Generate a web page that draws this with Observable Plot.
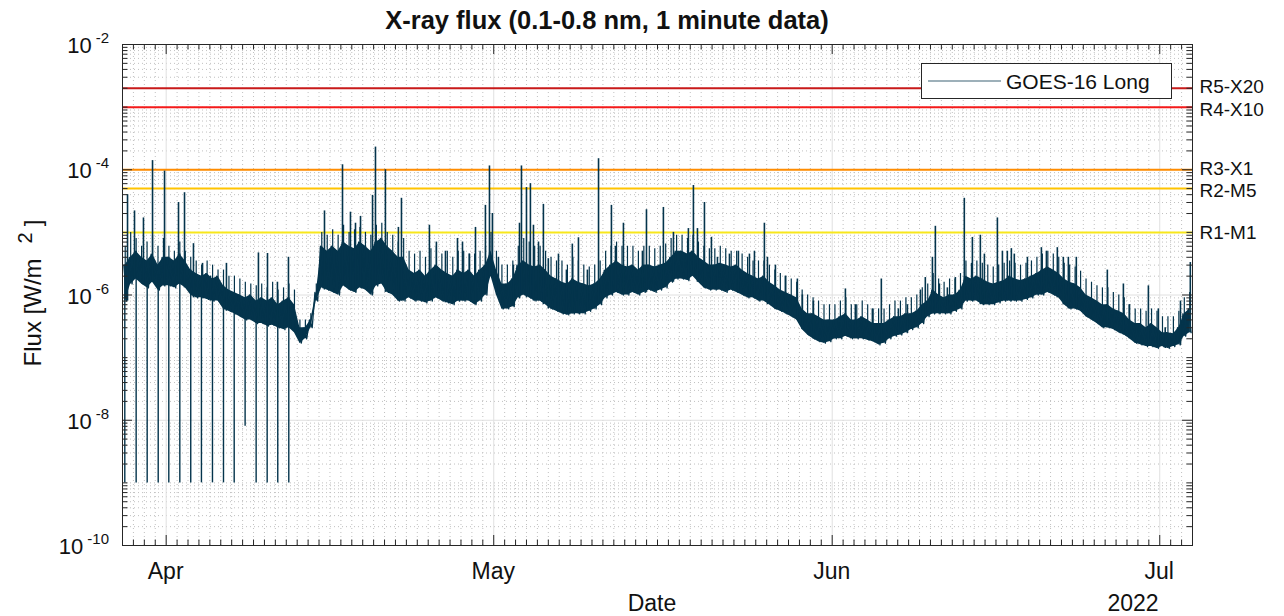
<!DOCTYPE html>
<html><head><meta charset="utf-8">
<script src="https://cdn.jsdelivr.net/npm/d3@7"></script>
<script src="https://cdn.jsdelivr.net/npm/@observablehq/plot@0.6"></script>
<style>html,body{margin:0;padding:0;background:#fff}#chart svg{display:block}</style>
</head><body><div id="chart"></div>
<script>
const DAY = 86400000;
const startDate = Date.UTC(2022, 2, 28);
const endDate = Date.UTC(2022, 6, 4);

// half-day bins (starting 2022-03-28 00:00 UTC): top and bottom of the dense flux band
const binHigh = [
 3e-6,4e-6, 5e-6,4e-6, 3.5e-6,4.5e-6, 3e-6,4e-6, 4e-6,3.5e-6, 4.5e-6,3.5e-6, 2.5e-6,2.2e-6, 2e-6,2.2e-6, 1.8e-6,2e-6, 1.4e-6,1.2e-6,
 1.1e-6,1e-6, 9e-7,1e-6, 8e-7,9e-7, 8e-7,9e-7, 7e-7,8e-7, 9e-7,7e-7, 3e-7,3e-7, 4e-7,1.1e-6, 6e-6,5e-6, 6e-6,5e-6,
 7e-6,6e-6, 5.5e-6,7e-6, 6e-6,5e-6, 7e-6,8e-6, 6e-6,5e-6, 4e-6,4e-6, 2.5e-6,2.2e-6, 2.5e-6,2e-6, 2.5e-6,3e-6, 2.5e-6,2.2e-6,
 2e-6,2.5e-6, 2.2e-6,2.5e-6, 2e-6,2.5e-6, 3e-6,5e-6, 2.5e-6,1.5e-6, 1.5e-6,1.8e-6, 3e-6,3.5e-6, 3e-6,2.8e-6, 3e-6,2.5e-6, 2e-6,1.8e-6,
 1.6e-6,1.5e-6, 1.8e-6,1.6e-6, 1.5e-6,1.4e-6, 1.5e-6,1.8e-6, 2.5e-6,3e-6, 3.5e-6,3e-6, 2.8e-6,3e-6, 2.5e-6,3e-6, 3e-6,2.8e-6, 3e-6,3.2e-6,
 4e-6,5e-6, 5e-6,4.5e-6, 5e-6,4e-6, 3.5e-6,3e-6, 3e-6,3.2e-6, 3e-6,2.8e-6, 3e-6,2.5e-6, 2.2e-6,2e-6, 1.8e-6,2e-6, 1.6e-6,1.4e-6,
 1.2e-6,1.1e-6, 1e-6,9e-7, 6e-7,5e-7, 5e-7,4.5e-7, 4e-7,4e-7, 4e-7,4.5e-7, 5e-7,4e-7, 4e-7,4.5e-7, 4e-7,3.5e-7, 3.5e-7,3.5e-7,
 4e-7,4.5e-7, 4.5e-7,5e-7, 5e-7,5.5e-7, 7e-7,8e-7, 1.2e-6,1e-6, 9e-7,1e-6, 1e-6,1.2e-6, 2e-6,1.8e-6, 2e-6,1.8e-6, 1.6e-6,1.5e-6,
 1.6e-6,1.7e-6, 2e-6,1.8e-6, 1.7e-6,1.8e-6, 2e-6,2.2e-6, 2.5e-6,2.8e-6, 2.5e-6,2.2e-6, 1.8e-6,1.6e-6, 1.5e-6,1.3e-6, 1e-6,9e-7, 8e-7,7e-7,
 7e-7,6e-7, 5.5e-7,5e-7, 4e-7,3.5e-7, 3.5e-7,3e-7, 3.5e-7,3e-7, 2.5e-7,2.5e-7, 2.4e-7,3e-7, 5e-7,6e-7
];
const binLow = [
 8e-7,1.5e-6, 1.8e-6,1.5e-6, 1.3e-6,1.6e-6, 1.2e-6,1.4e-6, 1.4e-6,1.3e-6, 1.5e-6,1.3e-6, 1e-6,9e-7, 9e-7,8.5e-7, 8e-7,8e-7, 6e-7,5.5e-7,
 5e-7,4.5e-7, 4e-7,4e-7, 3.5e-7,3.5e-7, 3.2e-7,3.3e-7, 3e-7,2.8e-7, 3e-7,2.5e-7, 1.7e-7,2e-7, 3e-7,8e-7, 1.3e-6,1.2e-6, 1.1e-6,1e-6,
 1.4e-6,1.2e-6, 1.1e-6,1.3e-6, 1.2e-6,1e-6, 1.4e-6,1.5e-6, 1.1e-6,1e-6, 8e-7,8e-7, 9e-7,8e-7, 8e-7,7.5e-7, 8e-7,9e-7, 8e-7,7.5e-7,
 7e-7,8e-7, 8e-7,8e-7, 7e-7,8e-7, 1e-6,2e-6, 1e-6,6e-7, 6e-7,6.5e-7, 9e-7,1e-6, 9e-7,8e-7, 8e-7,7e-7, 6e-7,5.5e-7,
 5e-7,4.8e-7, 5e-7,5e-7, 5e-7,5.5e-7, 6e-7,7e-7, 9e-7,1e-6, 1.1e-6,1e-6, 1e-6,1.1e-6, 1e-6,1.1e-6, 1.2e-6,1.1e-6, 1.2e-6,1.3e-6,
 1.6e-6,1.8e-6, 1.8e-6,1.7e-6, 2e-6,1.6e-6, 1.3e-6,1.2e-6, 1.2e-6,1.2e-6, 1.1e-6,1.2e-6, 1.1e-6,1e-6, 9e-7,9e-7, 8e-7,8e-7, 7e-7,6e-7,
 5.5e-7,5e-7, 4.5e-7,4e-7, 2.8e-7,2.3e-7, 2e-7,1.8e-7, 1.7e-7,1.8e-7, 2e-7,2e-7, 2.2e-7,2e-7, 2e-7,2e-7, 1.9e-7,1.8e-7, 1.6e-7,1.7e-7,
 2e-7,2.2e-7, 2.3e-7,2.5e-7, 2.8e-7,3e-7, 3.5e-7,4.5e-7, 5e-7,5e-7, 5e-7,5e-7, 5.5e-7,6e-7, 8e-7,8e-7, 8e-7,7e-7, 7e-7,7e-7,
 7.5e-7,8e-7, 8e-7,8e-7, 8e-7,8.5e-7, 9e-7,1e-6, 1e-6,1.1e-6, 1e-6,9e-7, 7e-7,6e-7, 6e-7,5.5e-7, 4.5e-7,4e-7, 3.5e-7,3e-7,
 3e-7,2.8e-7, 2.5e-7,2.3e-7, 2e-7,1.7e-7, 1.6e-7,1.5e-7, 1.5e-7,1.4e-7, 1.5e-7,1.4e-7, 1.5e-7,1.6e-7, 2.2e-7,2.5e-7
];
// typical height of the small spikes above the band in each half-day bin
const binSpike = [
 6e-6,1e-5, 8e-6,6e-6, 7e-6,9e-6, 6e-6,8e-6, 6e-6,5e-6, 7e-6,5e-6, 4e-6,3.5e-6, 3e-6,3.5e-6, 3e-6,2.5e-6, 2.5e-6,2e-6,
 2e-6,1.8e-6, 1.6e-6,1.5e-6, 1.4e-6,1.5e-6, 1.3e-6,1.6e-6, 1.2e-6,1.3e-6, 1.5e-6,1.2e-6, 4e-7,4e-7, 5e-7,1.5e-6, 1e-5,9e-6, 1.1e-5,9e-6,
 1.3e-5,1e-5, 1.1e-5,1.2e-5, 1e-5,9e-6, 1.3e-5,1.4e-5, 1e-5,9e-6, 7e-6,8e-6, 5e-6,4.5e-6, 5e-6,4e-6, 5.5e-6,6e-6, 4.5e-6,5e-6,
 4e-6,5e-6, 5e-6,4.5e-6, 4.5e-6,5e-6, 6e-6,1e-5, 5e-6,3e-6, 3e-6,3.5e-6, 6e-6,8e-6, 7e-6,6e-6, 6e-6,5e-6, 4e-6,3.5e-6,
 3.5e-6,3e-6, 4e-6,3.5e-6, 3e-6,2.8e-6, 3e-6,3.5e-6, 5e-6,6e-6, 7e-6,6e-6, 6e-6,6e-6, 5e-6,6e-6, 6e-6,5.5e-6, 6e-6,6.5e-6,
 8e-6,9e-6, 9e-6,8e-6, 9e-6,7e-6, 6e-6,5.5e-6, 5.5e-6,6e-6, 5.5e-6,5e-6, 5e-6,4.5e-6, 4e-6,3.5e-6, 3.5e-6,3.5e-6, 3e-6,2.5e-6,
 2.2e-6,2e-6, 1.8e-6,1.6e-6, 1.2e-6,1e-6, 9e-7,8e-7, 7e-7,7e-7, 7e-7,8e-7, 9e-7,7e-7, 7e-7,8e-7, 7e-7,6e-7, 6e-7,6e-7,
 7e-7,8e-7, 8e-7,9e-7, 9e-7,1e-6, 1.3e-6,1.5e-6, 2.2e-6,1.8e-6, 1.6e-6,1.8e-6, 1.8e-6,2.2e-6, 3.5e-6,3.2e-6, 3.5e-6,3.2e-6, 3e-6,2.8e-6,
 3e-6,3.2e-6, 3.5e-6,3.2e-6, 3e-6,3.2e-6, 3.5e-6,4e-6, 4.5e-6,5e-6, 4.5e-6,4e-6, 3.2e-6,3e-6, 2.8e-6,2.4e-6, 1.8e-6,1.6e-6, 1.4e-6,1.3e-6,
 1.3e-6,1.1e-6, 1e-6,9e-7, 7e-7,6e-7, 6e-7,5.5e-7, 6e-7,5.5e-7, 4.5e-7,4.5e-7, 4.5e-7,5.5e-7, 9e-7,1.1e-6
];

// flare peaks: days since 2022-03-28 00:00 UTC and peak flux
const flareDay = [0.46,1.1,1.92,2.75,3.85,5.13,5.68,6.5,7.33,8.06,9.52,12.45,13.28,14.19,15.2,
 18.5,20.15,20.88,21.34,21.8,22.9,23.17,24.08,25.27,25.55,28.11,28.75,29.58,30.68,31.14,31.78,32.33,
 33.24,33.61,33.88,34.43,35.8,36.36,36.54,37.0,37.36,37.64,38.1,38.55,39.0,39.93,40.66,41.2,41.76,42.58,
 43.6,44.78,45.15,45.88,47.62,47.99,49.54,50.46,51.83,52.29,52.66,53.3,53.94,54.49,55.59,56.41,57.42,57.88,
 58.79,59.07,59.8,60.71,61.81,62.27,63.28,66.21,67.12,68.68,69.5,71.06,71.89,73.08,73.53,74.18,74.45,74.82,
 75.55,76.28,77.1,77.84,78.57,78.94,80.13,80.59,81.04,81.41,81.68,82.88,84.16,84.62,85.62,86.17,86.63,87.36,
 90.2,91.67,92.2,93.96,94.87,95.5,96.9,97.8];
const flarePeak = [4e-5,2.2e-5,1.7e-5,1.4e-4,9.5e-5,3e-5,4.3e-5,6.6e-6,3.2e-6,2e-6,3.2e-6,4.7e-6,4.6e-6,1.6e-6,4e-6,
 2.2e-5,1.2e-4,2.1e-5,1.4e-5,1.8e-5,3.9e-5,2.3e-4,1e-4,1.2e-5,3.5e-5,1.3e-5,7e-6,5e-6,8e-6,7e-6,4.5e-6,1.2e-5,
 2.7e-5,1.15e-4,2e-5,4e-6,3e-6,1.4e-5,1.15e-4,5.2e-5,6e-5,1.3e-5,7e-6,2.8e-5,3.8e-6,4.5e-6,2.5e-6,6.5e-6,8.2e-6,2.5e-6,
 1.5e-4,2.7e-5,6e-6,1.4e-5,5e-6,2.3e-5,2.5e-5,1e-5,1.15e-5,5.6e-5,1.15e-5,3e-5,8.3e-6,4e-6,4.5e-6,5e-6,4.5e-6,5e-6,
 1.4e-5,4e-6,3e-6,2e-6,1.8e-6,1e-6,8e-7,1.25e-6,7e-7,6e-7,1.8e-6,6e-7,7e-7,1.2e-6,1.9e-6,4e-6,1.25e-5,1.5e-6,
 1.3e-6,1.9e-6,3.5e-5,8.3e-6,9e-6,4.5e-6,1.7e-5,5e-6,5e-6,5.5e-6,4.5e-6,4e-6,5.7e-6,5e-6,5.7e-6,4e-6,4e-6,4e-6,
 2.5e-6,1.5e-6,7e-7,1.4e-6,6e-7,3e-7,8e-7,3.3e-6];

// daily data dropouts
const dropDay = [0.21,1.25,2.26,3.27,4.24,5.25,6.25,7.23,8.24,9.25,10.23,11.23,12.24,13.25,14.22,15.23];
const dropMin = [1e-9,1e-9,1e-9,1e-9,1e-9,1e-9,1e-9,1e-9,1e-9,1e-9,1e-9,8e-9,1e-9,1e-9,1e-9,1e-9];

// NOAA radio blackout thresholds
const thrValue = [2e-3, 1e-3, 1e-4, 5e-5, 1e-5];
const thrLabel = ["R5-X20", "R4-X10", "R3-X1", "R2-M5", "R1-M1"];
const thrColor = ["#c81a1a", "#f51a1a", "#ff8c00", "#ffc400", "#f8e71c"];

const monthTicks = [Date.UTC(2022,3,1), Date.UTC(2022,4,1), Date.UTC(2022,5,1), Date.UTC(2022,6,1)];
const monthLabels = ["Apr", "May", "Jun", "Jul"];
const yLabelExp = [-10, -8, -6, -4, -2];

// ---- build ----
const bins = binHigh.map((hi, i) => ({t: new Date(startDate + (i * 0.5 + 0.25) * DAY), hi, lo: binLow[i], sp: binSpike[i]}));
const zig = [];
binHigh.forEach((v, i) => zig.push({t: new Date(startDate + (i * 0.5 + 0.125) * DAY), v}));
binLow.forEach((v, i) => zig.push({t: new Date(startDate + (i * 0.5 + 0.375) * DAY), v}));
zig.sort((a, b) => a.t - b.t);
const binAt = d => Math.min(binLow.length - 1, Math.floor(d * 2));
const flares = flareDay.map((d, i) => ({t: new Date(startDate + d * DAY), base: binLow[binAt(d)], peak: flarePeak[i]}));
const drops = dropDay.map((d, i) => ({t: new Date(startDate + d * DAY), base: binHigh[binAt(d)], low: dropMin[i]}));

const yMajor = yLabelExp.map(e => Math.pow(10, e));
const yMinor = [];
for (let k = -10; k < -2; k++) for (let n = 1; n < 10; n++) {
  if (n === 1 && k % 2 === 0) continue;
  yMinor.push(n * Math.pow(10, k));
}
const nDays = Math.round((endDate - startDate) / DAY);
const xDays = [];
for (let d = 0; d <= nDays; d++) xDays.push(new Date(startDate + d * DAY));
const monthSet = new Set(monthTicks);
const xMinor = xDays.filter(d => !monthSet.has(+d));
const xMajor = monthTicks.map(t => new Date(t));

const W = 1284, H = 616, mL = 122, mR = 92, mT = 44, mB = 71;
const pw = W - mL - mR, ph = H - mT - mB;
const FONT = "'Liberation Sans', Arial, Helvetica, sans-serif";
const AX = "#262626";
const DATA = "#04344c";
const labelShift = [-1, 2.5, -1, 2.5, 1];

const chart = Plot.plot({
  width: W, height: H, marginLeft: mL, marginRight: mR, marginTop: mT, marginBottom: mB,
  x: {type: "utc", domain: [new Date(startDate), new Date(endDate)], axis: null},
  y: {type: "log", domain: [1e-10, 1e-2], axis: null},
  style: {fontFamily: FONT, background: "#fff", overflow: "visible"},
  marks: [
    Plot.ruleY(yMinor, {y: d => d, stroke: "#c0c0c0", strokeDasharray: "1,3"}),
    Plot.ruleX(xMinor, {x: d => d, stroke: "#c0c0c0", strokeDasharray: "1,3"}),
    Plot.ruleY(yMajor, {y: d => d, stroke: "#e0e0e0"}),
    Plot.ruleX(xMajor, {x: d => d, stroke: "#e0e0e0"}),
    ...thrValue.map((v, i) => Plot.ruleY([v], {stroke: thrColor[i], strokeWidth: 2})),
    Plot.ruleX(drops, {x: "t", y1: "base", y2: "low", stroke: DATA, strokeWidth: 1.4}),
    Plot.ruleX(bins, {x: "t", y1: "lo", y2: "sp", stroke: DATA, strokeWidth: 1.2}),
    Plot.areaY(bins, {x: "t", y1: "lo", y2: "hi", fill: DATA}),
    Plot.line(zig, {x: "t", y: "v", stroke: DATA, strokeWidth: 1.3}),
    Plot.ruleX(flares, {x: "t", y1: "base", y2: "peak", stroke: DATA, strokeWidth: 1.6}),
    Plot.tickY(yMajor, {y: d => d, insetRight: pw - 10, stroke: AX}),
    Plot.tickY(yMajor, {y: d => d, insetLeft: pw - 10, stroke: AX}),
    Plot.tickY(yMinor, {y: d => d, insetRight: pw - 5.5, stroke: AX}),
    Plot.tickY(yMinor, {y: d => d, insetLeft: pw - 5.5, stroke: AX}),
    Plot.tickX(xMajor, {x: d => d, insetTop: ph - 10, stroke: AX}),
    Plot.tickX(xMajor, {x: d => d, insetBottom: ph - 10, stroke: AX}),
    Plot.tickX(xMinor, {x: d => d, insetTop: ph - 5.5, stroke: AX}),
    Plot.tickX(xMinor, {x: d => d, insetBottom: ph - 5.5, stroke: AX}),
    Plot.frame({stroke: AX, strokeWidth: 1}),
    ...thrLabel.map((s, i) => Plot.text([s], {y: () => thrValue[i], text: d => d, frameAnchor: "right", textAnchor: "start",
      lineAnchor: "middle", dx: 7, dy: labelShift[i], fontSize: 19, fill: "#111"}))
  ]
});
document.getElementById("chart").appendChild(chart);

const svg = d3.select(chart);
const xs = chart.scale("x"), ys = chart.scale("y");
const txt = (x, y, s, size, anchor) => svg.append("text").attr("x", x).attr("y", y)
  .attr("font-family", FONT).attr("font-size", size).attr("text-anchor", anchor || "middle")
  .attr("fill", "#111").text(s);

// x tick labels
monthTicks.forEach((t, i) => txt(xs.apply(new Date(t)), 579, monthLabels[i], 23));
txt(1133, 611, "2022", 23);
txt(652, 611, "Date", 23);

// y tick labels 10^e
yLabelExp.forEach(e => {
  const ty = ys.apply(Math.pow(10, e));
  const t = svg.append("text").attr("x", 109).attr("y", ty + 9)
    .attr("font-family", FONT).attr("font-size", 22).attr("text-anchor", "end").attr("fill", "#111");
  t.append("tspan").text("10");
  t.append("tspan").attr("dx", 4).attr("dy", -10).attr("font-size", 15).text("-" + Math.abs(e));
});

// y axis title
const yl = svg.append("text").attr("transform", "translate(41,293) rotate(-90)")
  .attr("font-family", FONT).attr("font-size", 24).attr("text-anchor", "middle").attr("fill", "#111");
yl.append("tspan").text("Flux [W/m");
yl.append("tspan").attr("dx", 15).attr("dy", -9).attr("font-size", 20).text("2");
yl.append("tspan").attr("dx", 6).attr("dy", 9).text("]");

// title
svg.append("text").attr("x", 607).attr("y", 29).attr("font-family", FONT).attr("font-size", 25.5)
  .attr("font-weight", "bold").attr("text-anchor", "middle").attr("fill", "#111")
  .text("X-ray flux (0.1-0.8 nm, 1 minute data)");

// legend
svg.append("rect").attr("x", 921.5).attr("y", 63.5).attr("width", 250).attr("height", 35)
  .attr("fill", "#fff").attr("stroke", AX);
svg.append("line").attr("x1", 928).attr("x2", 1001).attr("y1", 81).attr("y2", 81)
  .attr("stroke", "#3d6275").attr("stroke-width", 1.2);
txt(1006, 88.5, "GOES-16 Long", 21, "start");
</script></body></html>
